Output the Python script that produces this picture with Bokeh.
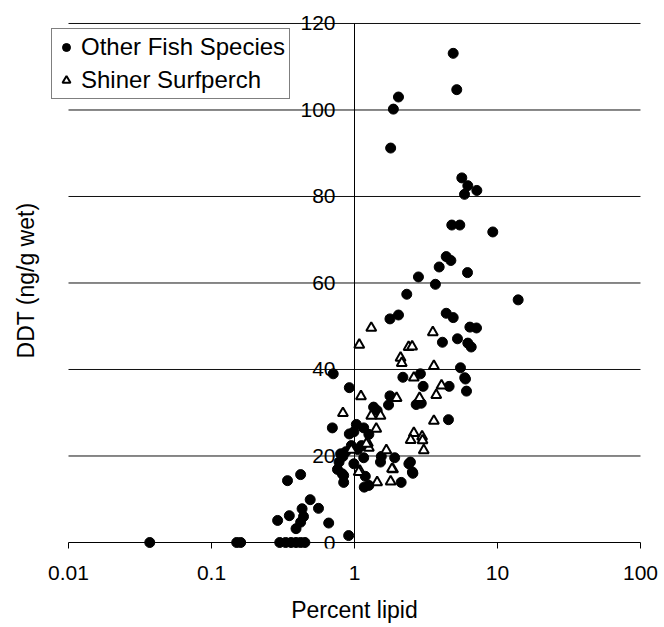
from bokeh.plotting import figure
from bokeh.models import Range1d, FixedTicker, Legend, LegendItem, LabelSet, ColumnDataSource
from bokeh.core.properties import value
from bokeh.embed import file_html
from bokeh.resources import INLINE

# Other Fish Species: percent lipid, DDT (ng/g wet)
other_lipid = [4.9, 5.19, 2.03, 1.87, 1.79, 5.63, 6.2, 7.17, 5.88, 4.79, 5.45, 9.27,
               4.38, 4.72, 3.91, 6.17, 2.80, 3.68, 2.32, 13.95, 4.38, 4.9, 2.03, 1.77,
               6.41, 7.13, 4.12, 5.25, 6.2, 6.55, 5.51, 5.9, 2.89, 2.18,
               0.71, 0.92, 0.70, 3.02, 4.59, 6.07, 5.97, 1.77, 1.73, 2.70, 2.93, 1.36,
               1.44, 1.03, 0.92, 1.16, 1.26, 4.54, 0.99,
               1.12, 0.95, 1.54, 1.91, 1.52, 2.46, 2.54, 1.16, 0.83, 0.78, 0.99, 0.76,
               1.19, 0.84, 0.84, 2.12, 1.26, 2.40, 2.56, 0.80, 0.87, 1.05, 1.17, 0.82,
               0.42, 0.34, 0.49, 0.43, 0.56, 0.35, 0.29, 0.44, 0.42, 0.39, 0.66, 0.91,
               0.037, 0.15, 0.16, 0.30, 0.33, 0.36, 0.39, 0.42, 0.45]
other_ddt = [113.1, 104.7, 103.0, 100.2, 91.2, 84.3, 82.5, 81.4, 80.5, 73.4, 73.4, 71.8,
             66.1, 65.2, 63.7, 62.4, 61.4, 59.7, 57.4, 56.1, 53.0, 52.0, 52.6, 51.7,
             49.8, 49.6, 46.3, 47.1, 46.1, 45.2, 40.4, 38.1, 39.0, 38.2,
             39.0, 35.8, 26.5, 36.1, 36.1, 35.0, 37.8, 33.9, 31.8, 31.9, 32.2, 31.3,
             30.5, 27.3, 25.1, 26.5, 25.0, 28.4, 25.6,
             22.4, 22.4, 19.9, 19.6, 18.6, 18.6, 16.3, 19.6, 19.9, 18.6, 18.2, 16.9,
             15.3, 15.5, 13.9, 13.9, 13.2, 18.2, 16.0, 20.5, 21.0, 21.5, 12.8, 15.9,
             15.7, 14.3, 9.9, 7.8, 7.9, 6.2, 5.1, 6.0, 4.7, 3.2, 4.5, 1.6,
             0, 0, 0, 0, 0, 0, 0, 0, 0]

# Shiner Surfperch
shiner_lipid = [1.31, 1.08, 3.53, 2.39, 2.53, 2.10, 2.14, 3.59, 1.11, 0.83, 2.60, 4.06,
                3.73, 1.97, 2.85, 1.31, 1.52, 1.42, 3.59, 2.60, 2.97, 2.47, 2.99, 3.05,
                1.24, 1.26, 0.95, 1.67, 1.86, 1.09, 1.44, 1.79, 1.07, 1.83, 1.21]
shiner_ddt = [49.6, 45.7, 48.6, 45.2, 45.3, 42.7, 41.5, 40.8, 33.8, 29.9, 38.1, 36.3,
              34.1, 33.4, 33.4, 29.3, 29.3, 26.3, 28.1, 25.3, 24.5, 23.7, 23.6, 21.3,
              23.0, 21.9, 21.4, 21.3, 16.9, 16.6, 13.9, 14.1, 16.3, 17.0, 22.8]

x_ticks = [0.01, 0.1, 1, 10, 100]
x_tick_labels = ["0.01", "0.1", "1", "10", "100"]
y_ticks = [0, 20, 40, 60, 80, 100, 120]
y_tick_labels = ["0", "20", "40", "60", "80", "100", "120"]

FONT = "Liberation Sans"
X_MIN, X_MAX = x_ticks[0], x_ticks[-1]
Y_MIN, Y_MAX = y_ticks[0], y_ticks[-1]

# frame padded a little so that markers at 0, the legend and the "120" label are not clipped
p = figure(width=664, height=627, x_axis_type="log",
           x_range=Range1d(0.007482, 133.65), y_range=Range1d(-1.387, 122.54),
           output_backend="svg", toolbar_location=None,
           min_border_left=50, min_border_right=6, min_border_top=12, min_border_bottom=79)
p.outline_line_color = None
p.background_fill_color = "white"
p.xgrid.visible = False
p.ygrid.visible = False

# horizontal gridlines from 0.01 to 100
grid_y = y_ticks[1:]
p.segment(x0=[X_MIN] * len(grid_y), y0=grid_y, x1=[X_MAX] * len(grid_y), y1=grid_y,
          line_color="#111111", line_width=1)
# x axis line at y = 0
p.segment(x0=[X_MIN], y0=[Y_MIN], x1=[X_MAX], y1=[Y_MIN], line_color="black", line_width=1)
# vertical axis line at x = 1
p.segment(x0=[1], y0=[Y_MIN], x1=[1], y1=[Y_MAX], line_color="black", line_width=1)

# x axis (ticks, labels, title)
xa = p.xaxis[0]
xa.ticker = FixedTicker(ticks=x_ticks, minor_ticks=[])
xa.major_label_overrides = {t: l for t, l in zip(x_ticks, x_tick_labels)}
xa.axis_line_color = None
xa.major_tick_line_color = "black"
xa.major_tick_in = 6
xa.major_tick_out = 0
xa.minor_tick_line_color = None
xa.major_label_text_font = FONT
xa.major_label_text_font_size = "21px"
xa.major_label_text_color = "black"
xa.major_label_standoff = 17
xa.axis_label = "Percent lipid"
xa.axis_label_text_font = FONT
xa.axis_label_text_font_size = "23px"
xa.axis_label_text_font_style = "normal"
xa.axis_label_text_color = "black"
xa.axis_label_standoff = 14

# y axis (title only; tick labels sit beside the axis line at x = 1)
ya = p.yaxis[0]
ya.ticker = FixedTicker(ticks=[])
ya.axis_line_color = None
ya.major_tick_line_color = None
ya.minor_tick_line_color = None
ya.axis_label = "DDT (ng/g wet)"
ya.axis_label_text_font = FONT
ya.axis_label_text_font_size = "23px"
ya.axis_label_text_font_style = "normal"
ya.axis_label_text_color = "black"
ya.axis_label_standoff = 12

ysrc = ColumnDataSource(dict(x=[1] * len(y_ticks), y=y_ticks, t=y_tick_labels))
p.add_layout(LabelSet(x="x", y="y", text="t", source=ysrc, x_offset=-19,
                      text_align="right", text_baseline="middle",
                      text_font=value(FONT), text_font_size=value("21px"),
                      text_color="black"))

r_other = p.scatter(other_lipid, other_ddt, marker="circle", size=10,
                    fill_color="black", line_color="black")
r_shiner = p.scatter(shiner_lipid, shiner_ddt, marker="triangle", size=10,
                     fill_color="white", line_color="black", line_width=2)

legend = Legend(items=[LegendItem(label="Other Fish Species", renderers=[r_other]),
                       LegendItem(label="Shiner Surfperch", renderers=[r_shiner])],
                location=(1, 449))
legend.border_line_color = "black"
legend.border_line_width = 1
legend.background_fill_color = "white"
legend.background_fill_alpha = 1
legend.label_text_font = FONT
legend.label_text_font_size = "24px"
legend.label_text_color = "black"
legend.padding = 4
legend.spacing = 5
legend.glyph_width = 20
legend.glyph_height = 20
legend.label_standoff = 5
legend.margin = 0
p.add_layout(legend, "center")

open("out.html", "w").write(file_html(p, INLINE))
